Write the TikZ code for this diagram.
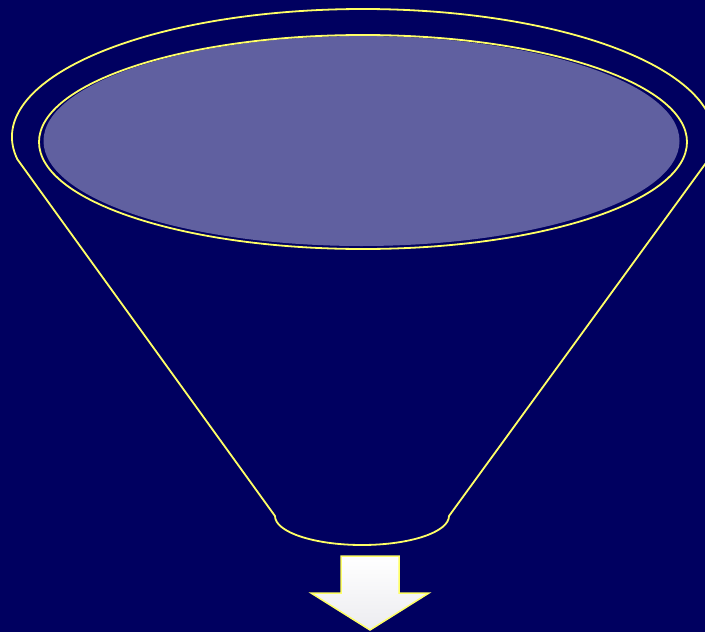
\documentclass[tikz,border=0pt]{standalone}
\begin{document}
\begin{tikzpicture}[x=1pt,y=-1pt,
  outline/.style={draw=funnelyellow,line width=1.8pt},
  arrowbox/.style={draw=funnelyellow,line width=1.5pt,line join=miter,top color=white,bottom color=arrowgray}]
\definecolor{navybg}{RGB}{0,0,96}
\definecolor{funnelyellow}{RGB}{255,255,102}
\definecolor{lav}{RGB}{96,96,160}
\definecolor{arrowgray}{RGB}{236,236,240}
\fill[navybg] (0,0) rectangle (705,632);
\useasboundingbox (0,0) rectangle (705,632);
% named points
\coordinate (topc) at (363,137);
\coordinate (botr) at (449,516);
\coordinate (innerc) at (363,142);
\coordinate (fillc) at (361.5,141);
% funnel outline
\draw[outline,line join=round] (topc) ++(170:351 and 128)
  arc[start angle=170,end angle=370,x radius=351,y radius=128]
  -- (botr) arc[start angle=0,end angle=180,x radius=87,y radius=29] -- cycle;
% inner disc
\fill[lav] (fillc) ellipse[x radius=318,y radius=105];
\draw[outline] (innerc) ellipse[x radius=324,y radius=107];
% down arrow
\draw[arrowbox] (341,556) coordinate (a1) -- (399,556) -- (399,593) -- (429,593)
  -- (370,630) coordinate (tip) -- (311,593) -- (341,593) -- cycle;
\end{tikzpicture}
\end{document}
